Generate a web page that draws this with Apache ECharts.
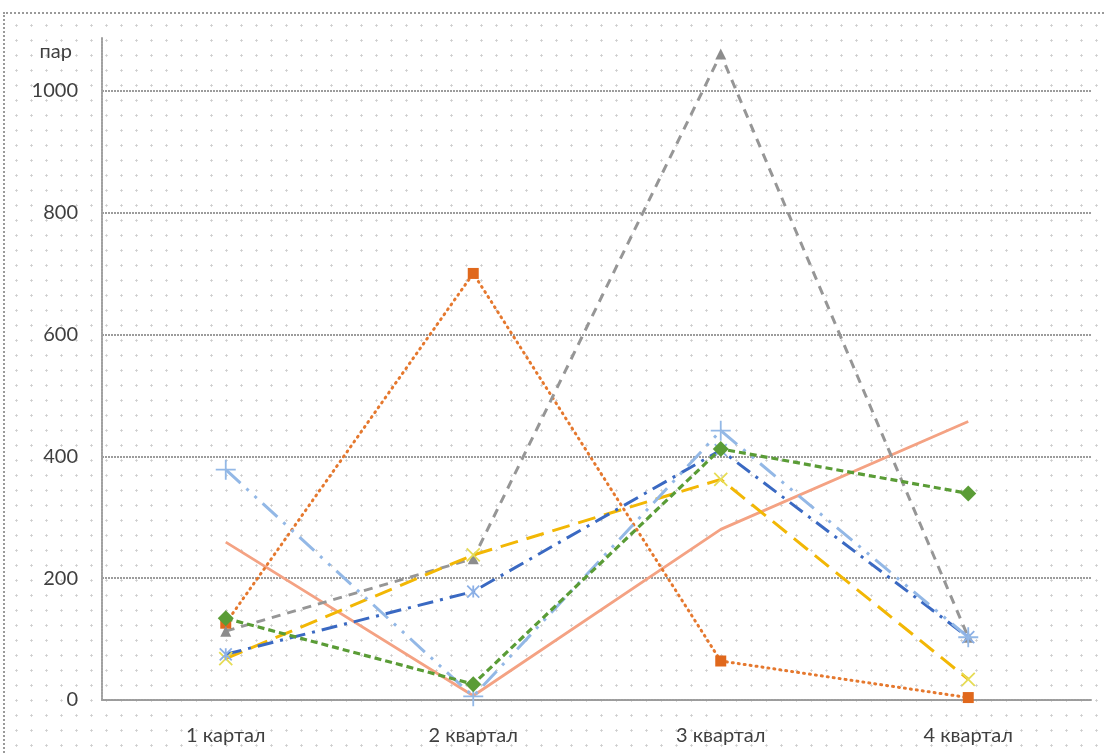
<!DOCTYPE html>
<html>
<head>
<meta charset="utf-8">
<script src="https://cdn.jsdelivr.net/npm/echarts@6/dist/echarts.min.js"></script>
<style>
  html, body { margin: 0; padding: 0; background: #ffffff; }
  #frame {
    position: absolute; left: 3px; top: 12px; width: 1110px; height: 750px;
    border-left: 2px dotted #9a9a9a; border-top: 2px dotted #9a9a9a;
    background-image: radial-gradient(circle, #cdcdcd 0.9px, rgba(255,255,255,0) 1.4px);
    background-size: 15px 15px;
    background-position: 4px 4px;
  }
  #chart { position: absolute; left: 0; top: 0; width: 1106px; height: 755px; }
</style>
</head>
<body>
<div id="frame"></div>
<div id="chart"></div>
<script>
// Quarters on the horizontal axis
const categories = ['1 картал', '2 квартал', '3 квартал', '4 квартал'];
const unitName = 'пар';

// Quarterly values per series
const seriesDarkBlue  = [75, 178, 410, 103];
const seriesOrange    = [126, 700, 64, 4];
const seriesGray      = [113, 232, 1060, 103];
const seriesGold      = [68, 238, 362, 34];
const seriesLightBlue = [378, 6, 442, 103];
const seriesGreen     = [134, 26, 412, 339];
const seriesSalmon    = [259, 7, 280, 457];

const X_PATH = 'path://M0,0 L10,10 M10,0 L0,10';
const PLUS_PATH = 'path://M5,0 L5,10 M0,5 L10,5';
const STAR_PATH = 'path://M0,0 L10,10 M10,0 L0,10 M5,0 L5,10';

function strokeSymbol(color, width) {
  return { color: 'rgba(0,0,0,0)', borderColor: color, borderWidth: width };
}

const chart = echarts.init(document.getElementById('chart'), null, { renderer: 'canvas' });

const gridLine = { color: '#9c9c9c', width: 2, type: [2, 1] };
const labelFont = { color: '#3f3f3f', fontSize: 20, fontFamily: 'Lato' };

chart.setOption({
  backgroundColor: 'transparent',
  animation: false,
  grid: { left: 102, right: 14, top: 37, bottom: 55, containLabel: false },
  xAxis: {
    type: 'category',
    data: categories,
    boundaryGap: true,
    axisLine: { show: true, lineStyle: gridLine },
    axisTick: { show: false },
    axisLabel: Object.assign({ margin: 26 }, labelFont)
  },
  yAxis: {
    type: 'value',
    min: 0,
    max: 1088,
    interval: 200,
    name: unitName,
    nameLocation: 'end',
    nameGap: -25,
    nameTextStyle: Object.assign({ align: 'right', padding: [0, 30, 0, 0] }, labelFont),
    axisLine: { show: true, lineStyle: { color: '#a0a0a0', width: 2, type: [2, 1] } },
    axisTick: { show: false },
    axisLabel: Object.assign({ margin: 24, showMaxLabel: false, formatter: v => String(v) }, labelFont),
    splitLine: { show: true, showMaxLine: false, lineStyle: gridLine }
  },
  series: [
    {
      name: 'A', type: 'line', data: seriesSalmon, symbol: 'none',
      lineStyle: { color: '#f4a283', width: 2.8 }, z: 2
    },
    {
      name: 'B', type: 'line', data: seriesOrange, symbol: 'rect', symbolSize: 11,
      lineStyle: { color: '#e5782e', width: 3, type: [1, 5], cap: 'round' },
      itemStyle: { color: '#e0681c' }, z: 3
    },
    {
      name: 'C', type: 'line', data: seriesGray, symbol: 'triangle', symbolSize: 11,
      lineStyle: { color: '#969696', width: 3, type: [9, 7] },
      itemStyle: { color: '#8c8c8c' }, z: 3
    },
    {
      name: 'D', type: 'line', data: seriesGold, symbol: X_PATH, symbolSize: 13,
      lineStyle: { color: '#f2b705', width: 3, type: [18, 9] },
      itemStyle: strokeSymbol('#e6dc55', 1.8), z: 4
    },
    {
      name: 'E', type: 'line', data: seriesDarkBlue, symbol: STAR_PATH, symbolSize: 12,
      lineStyle: { color: '#3a69c2', width: 3, type: [16, 7, 3, 7] },
      itemStyle: strokeSymbol('#8cb0e6', 1.8), z: 4
    },
    {
      name: 'F', type: 'line', data: seriesLightBlue, symbol: PLUS_PATH, symbolSize: 20,
      lineStyle: { color: '#93b8e6', width: 3, type: [20, 8, 3, 8, 3, 8] },
      itemStyle: strokeSymbol('#93b8e6', 1.8), z: 4
    },
    {
      name: 'G', type: 'line', data: seriesGreen, symbol: 'diamond', symbolSize: 16,
      lineStyle: { color: '#5a9c36', width: 3.2, type: [7, 4] },
      itemStyle: { color: '#5a9c36' }, z: 5
    }
  ]
});
</script>
</body>
</html>
